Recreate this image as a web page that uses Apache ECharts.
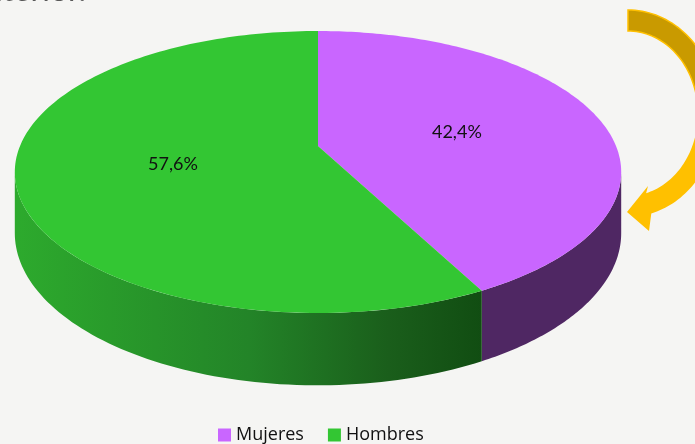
<!DOCTYPE html>
<html><head><meta charset="utf-8">
<script src="https://cdn.jsdelivr.net/npm/echarts@6/dist/echarts.min.js"></script>
<style>html,body{margin:0;padding:0;background:#f5f5f3}#c{width:695px;height:444px}</style>
</head><body><div id="c"></div>
<script>
const categories = ['Mujeres', 'Hombres'];
const values = [42.4, 57.6];
const valueLabels = ['42,4%', '57,6%'];
const topColors = ['#C966FF', '#33C633'];

// projection constants (layout)
const CX = 318, CY = 146, B = 298, A = 136.2, K = 0.1844, H = 59;
const total = values.reduce((s, v) => s + v, 0);
const starts = [];
(function(){ let acc = 0; values.forEach(v => { starts.push(acc); acc += v; }); })();

function proj(f, th, down) {
  const u = Math.sin(th) * f, v = Math.cos(th) * f;
  const d = 1 + K * v;
  return [CX + B * u / d, CY - A * v / d + (down ? H / d : 0)];
}
const SIL1 = Math.acos(-K), SIL2 = 2 * Math.PI - Math.acos(-K);

const sideFills = [
  '#4F2763',
  { type: 'linear', x: 16, y: 0, x2: 482, y2: 0, global: true,
    colorStops: [{offset: 0, color: '#2DAA2D'}, {offset: 0.5, color: '#238428'}, {offset: 0.8, color: '#1A5E1B'}, {offset: 1, color: '#114D12'}] }
];

function makeRender(i) {
  return function (params, api) {
    const val = api.value(0);
    const a0 = starts[i] / total * 2 * Math.PI;
    const a1 = a0 + val / total * 2 * Math.PI;
    const children = [];
    const s0 = Math.max(a0, SIL1), s1 = Math.min(a1, SIL2);
    if (s1 > s0) {
      const pts = [];
      const n = 80;
      for (let k = 0; k <= n; k++) pts.push(proj(1, s0 + (s1 - s0) * k / n, false));
      for (let k = n; k >= 0; k--) pts.push(proj(1, s0 + (s1 - s0) * k / n, true));
      children.push({ type: 'polygon', shape: { points: pts }, style: { fill: sideFills[i] } });
    }
    const tp = [proj(0, 0, false)];
    const n2 = 160;
    for (let k = 0; k <= n2; k++) tp.push(proj(1, a0 + (a1 - a0) * k / n2, false));
    children.push({ type: 'polygon', shape: { points: tp }, style: { fill: topColors[i] } });
    const lp = proj(0.49, (a0 + a1) / 2, false);
    children.push({ type: 'text', x: lp[0], y: lp[1] + 2, style: { text: valueLabels[i], fill: '#111', font: '18px Lato', align: 'center', verticalAlign: 'middle' } });
    return { type: 'group', children };
  };
}

// decorative arrow geometry
function ellArc(cx, cy, rx, ry, d0, d1, n) {
  const p = [];
  for (let k = 0; k <= n; k++) {
    const a = (d0 + (d1 - d0) * k / n) * Math.PI / 180;
    p.push([cx + rx * Math.cos(a), cy + ry * Math.sin(a)]);
  }
  return p;
}
const AX = 628, AY = 113.5;
const darkPts = ellArc(AX, AY, 90, 103.5, -90, 0, 40).concat(ellArc(AX, AY, 70, 82.5, 0, -90, 40));
const brightPts = ellArc(AX, AY, 90, 103.5, 0, 75, 40)
  .concat([[649, 231], [627, 212], [648, 186]])
  .concat(ellArc(AX, AY, 70, 82.5, 75, 0, 40));

const chart = echarts.init(document.getElementById('c'));
chart.setOption({
  backgroundColor: '#f5f5f3',
  animation: false,
  legend: {
    data: categories, icon: 'rect', itemWidth: 13, itemHeight: 13, itemGap: 24,
    left: 213, top: 421, textStyle: { fontFamily: 'Open Sans', fontSize: 18, color: '#111' }
  },
  graphic: [
    { type: 'text', x: 86, y: -9, style: { text: 'anterior.', font: '32px Lato', fill: '#595959', align: 'right', verticalAlign: 'middle' } },
    { type: 'polygon', shape: { points: darkPts }, style: { fill: '#C99A00', stroke: '#FFC000', lineWidth: 1.5 } },
    { type: 'polygon', shape: { points: brightPts }, style: { fill: '#FFC000' } }
  ],
  series: categories.map((name, i) => ({
    type: 'custom', name, coordinateSystem: 'none', silent: true,
    itemStyle: { color: topColors[i] },
    data: [[values[i]]],
    renderItem: makeRender(i)
  }))
});
</script></body></html>
